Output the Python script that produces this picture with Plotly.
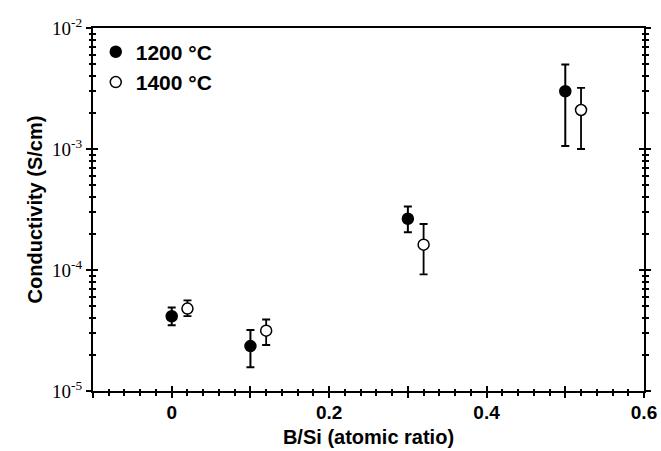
import plotly.graph_objects as go

# Data
x_1200 = [0.0, 0.10, 0.30, 0.50]
y_1200 = [4.15e-5, 2.35e-5, 2.65e-4, 3.0e-3]
err_hi_1200 = [4.9e-5, 3.2e-5, 3.35e-4, 5.0e-3]
err_lo_1200 = [3.5e-5, 1.57e-5, 2.05e-4, 1.06e-3]

x_1400 = [0.02, 0.12, 0.32, 0.52]
y_1400 = [4.8e-5, 3.15e-5, 1.62e-4, 2.1e-3]
err_hi_1400 = [5.6e-5, 3.9e-5, 2.4e-4, 3.2e-3]
err_lo_1400 = [4.15e-5, 2.4e-5, 9.2e-5, 1.0e-3]

x_majorvals = [-0.1, 0.0, 0.1, 0.2, 0.3, 0.4, 0.5, 0.6]
x_labelvals = [0.0, 0.2, 0.4, 0.6]
x_labeltext = ["0", "0.2", "0.4", "0.6"]
x_minorvals = [round(-0.1 + 0.02 * i, 2) for i in range(36)]
y_tickvals = [1e-5, 1e-4, 1e-3, 1e-2]
y_ticktext = ["10<sup>-5</sup>", "10<sup>-4</sup>", "10<sup>-3</sup>", "10<sup>-2</sup>"]
y_minorvals = [m * d for d in [1e-5, 1e-4, 1e-3] for m in range(2, 10)]

labels = ["1200 °C", "1400 °C"]

def plus(vals, hi):
    return [h - v for v, h in zip(vals, hi)]

def minus(vals, lo):
    return [v - l for v, l in zip(vals, lo)]

fig = go.Figure()
fig.add_trace(go.Scatter(
    x=x_1200, y=y_1200, mode="markers", name=labels[0], legendgroup="a",
    marker=dict(symbol="circle", size=11, color="black", line=dict(color="black", width=1.5)),
    error_y=dict(type="data", array=plus(y_1200, err_hi_1200), arrayminus=minus(y_1200, err_lo_1200),
                 color="black", thickness=2, width=4),
))
fig.add_trace(go.Scatter(
    x=x_1400, y=y_1400, mode="markers", name=labels[1], legendgroup="b",
    marker=dict(symbol="circle", size=11, color="white", line=dict(color="black", width=1.5)),
    error_y=dict(type="data", array=plus(y_1400, err_hi_1400), arrayminus=minus(y_1400, err_lo_1400),
                 color="black", thickness=1.8, width=4),
))
# invisible traces so the overlay axes (inner half of crossing ticks, x labels) are drawn
fig.add_trace(go.Scatter(x=x_1200, y=y_1200, xaxis="x2", yaxis="y2", mode="markers",
                         marker=dict(opacity=0), showlegend=False, hoverinfo="skip"))
fig.add_trace(go.Scatter(x=x_1200, y=y_1200, xaxis="x3", yaxis="y", mode="markers",
                         marker=dict(opacity=0), showlegend=False, hoverinfo="skip"))

xr = [-0.1, 0.6]
yr = [-5, -2]

MAJ = 5
MIN = 2.5
common_x = dict(range=xr, tickmode="array", showgrid=False, zeroline=False,
                tickwidth=2, ticklen=MAJ, tickcolor="black", automargin=False)
common_y = dict(type="log", range=yr, tickmode="array", tickvals=y_tickvals, showgrid=False,
                zeroline=False, tickwidth=2, ticklen=MAJ, tickcolor="black", automargin=False)
minor_out_x = dict(ticks="outside", tickmode="array", tickvals=x_minorvals, ticklen=MIN, tickwidth=2, tickcolor="black")
minor_in_x = dict(ticks="inside", tickmode="array", tickvals=x_minorvals, ticklen=MIN, tickwidth=2, tickcolor="black")
minor_out_y = dict(ticks="outside", tickmode="array", tickvals=y_minorvals, ticklen=MIN, tickwidth=2, tickcolor="black")
minor_in_y = dict(ticks="inside", tickmode="array", tickvals=y_minorvals, ticklen=MIN, tickwidth=2, tickcolor="black")

fig.update_layout(
    width=661, height=451,
    margin=dict(l=93, r=17, t=28, b=60),
    plot_bgcolor="white", paper_bgcolor="white",
    showlegend=True,
    legend=dict(x=0.005, y=0.99, xanchor="left", yanchor="top", bgcolor="rgba(0,0,0,0)",
                font=dict(family="Liberation Sans", size=21, color="black", weight="bold"),
                traceorder="grouped", tracegroupgap=0, itemwidth=30),
    xaxis=dict(**common_x, tickvals=x_majorvals, ticks="outside", showticklabels=False,
               showline=True, linecolor="black", linewidth=2, mirror=True,
               minor=minor_out_x,
               title=dict(text="B/Si (atomic ratio)", standoff=33,
                          font=dict(family="Liberation Sans", size=20, color="black", weight="bold"))),
    xaxis2=dict(**common_x, tickvals=x_majorvals, overlaying="x", anchor="y2", side="bottom",
                ticks="inside", showticklabels=False, showline=False, minor=minor_in_x),
    xaxis3=dict(range=xr, tickmode="array", tickvals=x_labelvals, ticktext=x_labeltext,
                overlaying="x", anchor="y", side="bottom", showgrid=False, zeroline=False,
                showline=False, ticks="", ticklabelstandoff=8, automargin=False,
                tickfont=dict(family="Liberation Sans", size=19, color="black", weight="bold")),
    yaxis=dict(**common_y, ticks="outside", ticktext=y_ticktext,
               showline=True, linecolor="black", linewidth=2, mirror="ticks",
               tickfont=dict(family="Liberation Serif", size=19, color="black"),
               minor=minor_out_y,
               title=dict(text="Conductivity (S/cm)", standoff=4,
                          font=dict(family="Liberation Sans", size=20, color="black", weight="bold"))),
    yaxis2=dict(**common_y, overlaying="y", anchor="x2", ticks="inside", showticklabels=False,
                showline=False, mirror="ticks", minor=minor_in_y),
)

fig.write_html("out.html")
